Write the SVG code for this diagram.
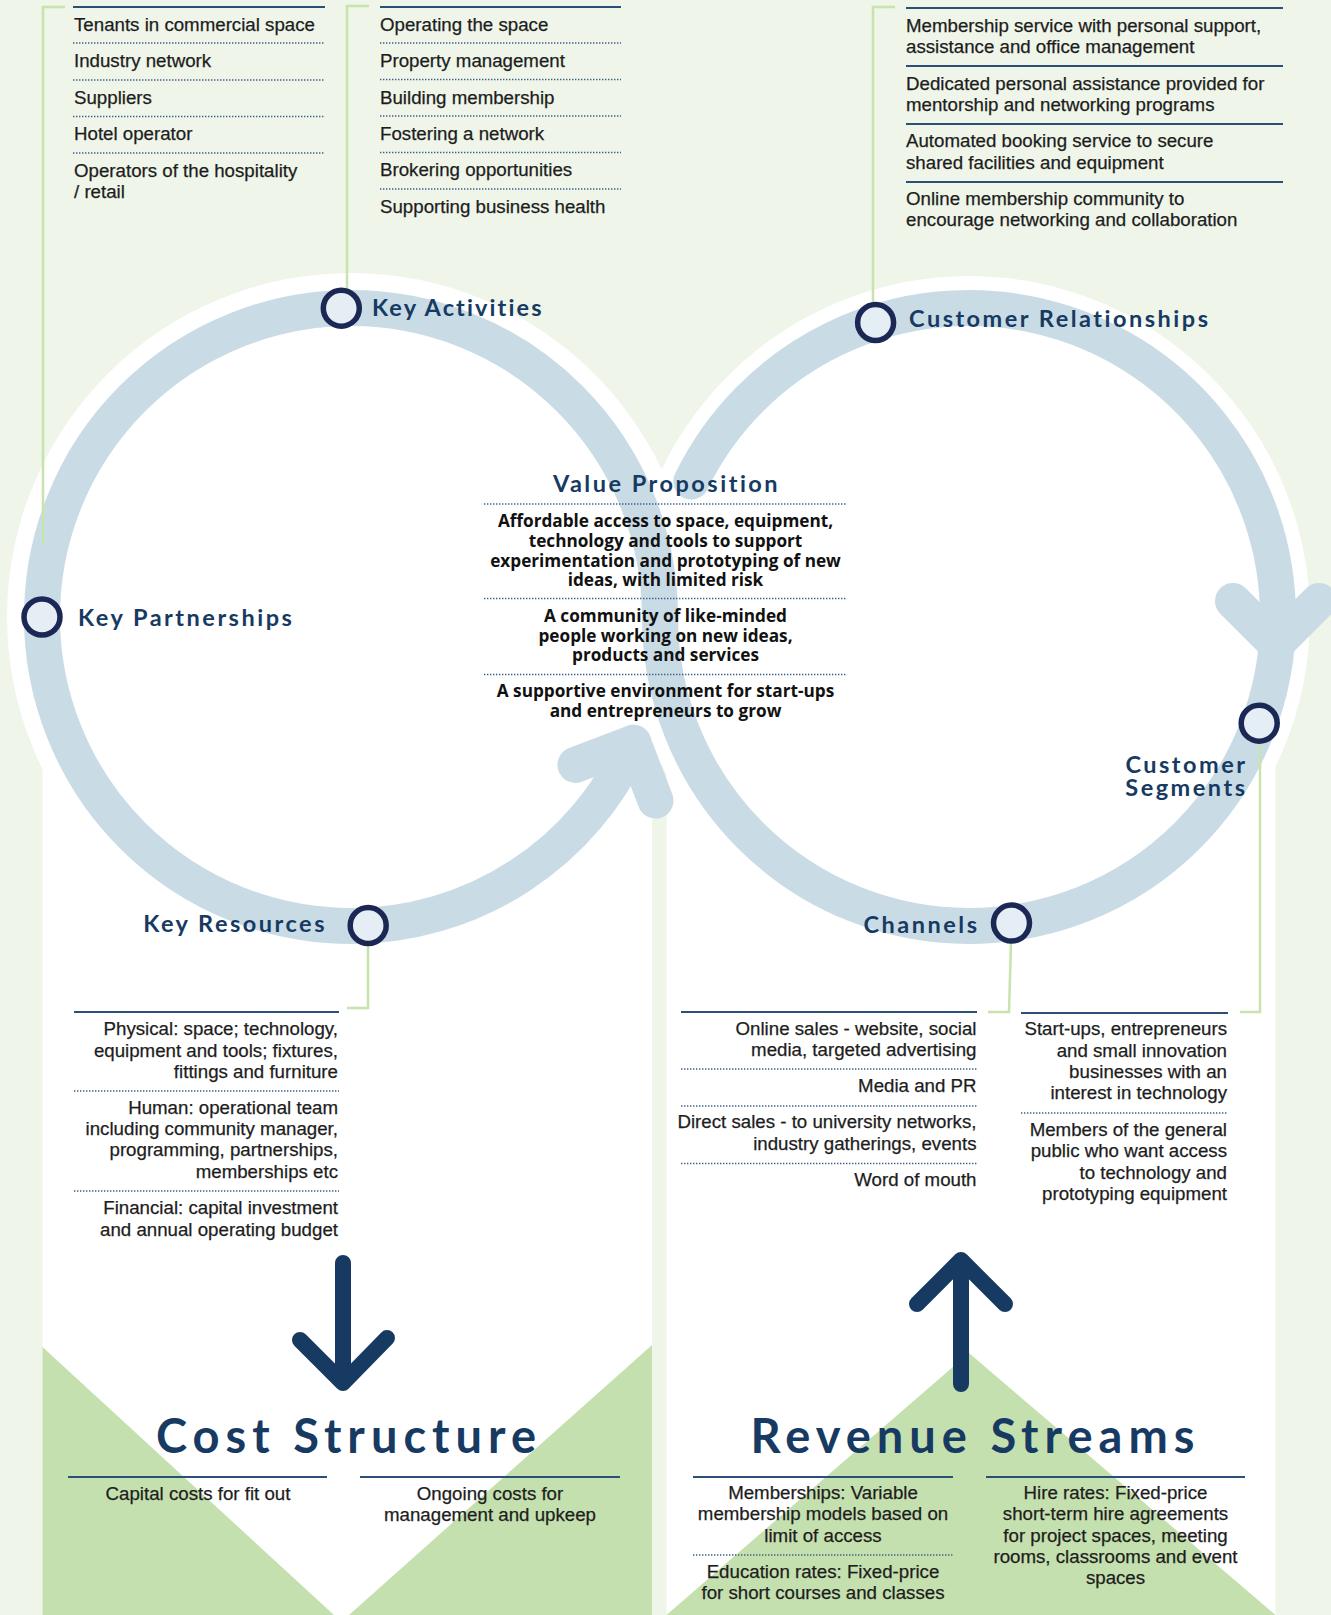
<svg xmlns="http://www.w3.org/2000/svg" width="1331" height="1615" viewBox="0 0 1331 1615">
  <style>
    .lab { font-family: Lato, "Liberation Sans", sans-serif; font-weight: 700; font-size: 23.5px; letter-spacing: 2.5px; fill: #173a63; }
    .tight { letter-spacing: 2.1px; }
    .big { font-family: Lato, "Liberation Sans", sans-serif; font-weight: 700; font-size: 47px; letter-spacing: 6px; fill: #173a63; text-anchor: middle; }
    .body { font-family: "Liberation Sans", Arial, sans-serif; font-size: 18.7px; fill: #1d1d1d; stroke: #1d1d1d; stroke-width: 0.25px; }
    .end { text-anchor: end; }
    .mid { text-anchor: middle; }
    .vp { font-family: "Open Sans", "Liberation Sans", sans-serif; font-weight: 700; font-size: 17.2px; fill: #111111; text-anchor: middle; }
    .solid { stroke: #2c4f78; stroke-width: 2.2; fill: none; }
    .dot { stroke: #3f5f88; stroke-width: 1.6; stroke-dasharray: 1.4 1.6; fill: none; }
    .node { fill: #e5edf5; stroke: #1b2754; stroke-width: 5.5; }
    .band { fill: none; stroke: #c9dce6; stroke-width: 36; stroke-linecap: round; stroke-linejoin: round; }
    .leader { fill: none; stroke: #c8e3ad; stroke-width: 2.5; }
    .bigarrow { fill: none; stroke: #173a63; stroke-width: 16; stroke-linecap: round; stroke-linejoin: round; }
  </style>

  <!-- backdrop -->
  <rect x="0" y="0" width="1331" height="1615" fill="#eff5e9"/>
  <g id="halo" fill="#ffffff">
    <circle cx="351" cy="617" r="344"/>
    <circle cx="969" cy="617" r="341"/>
    <rect x="42.5" y="617" width="609.5" height="998"/>
    <rect x="666.5" y="617" width="609" height="998"/>
  </g>
  <g id="base-triangles" fill="#c5e0af">
    <polygon points="42.5,1347 42.5,1615 334,1615"/>
    <polygon points="652,1345 652,1615 349,1615"/>
    <polygon points="666.5,1615 969,1353 1275.5,1615"/>
  </g>

  <!-- connectors: figure-eight loop, leaders, flow arrows -->
  <g id="connectors">
    <path class="band" d="M691.3 481.5 A309 309 0 0 1 1278 617 A309 309 0 0 1 969 926 A309 309 0 0 1 660 617 A309 309 0 0 0 351 308 A309 309 0 0 0 42 617 A309 309 0 0 0 351 926 A309 309 0 0 0 633.3 742.7"/>
    <path class="band" d="M575.4 764.9 L633.3 742.7 L655.5 800.6"/>
    <path class="band" d="M1233 601 L1276 644 L1319 601"/>
    <path class="leader" d="M65 7 H43 V545"/>
    <path class="leader" d="M369 6 H347 V292"/>
    <path class="leader" d="M895 7 H873 V305"/>
    <path class="leader" d="M368 944 V1008 H347"/>
    <path class="leader" d="M1011 942 L1009 1012 H988"/>
    <path class="leader" d="M1260 742 V1012 H1240"/>
    <path class="bigarrow" d="M343 1263 V1380 M300 1340 L343 1383 L387 1338"/>
    <path class="bigarrow" d="M961 1384 V1264 M917 1304 L961 1260 L1005 1304"/>
  </g>

  <g id="key-partnerships">
    <circle class="node" cx="42" cy="617" r="18"/>
    <text class="lab" x="78" y="626">Key Partnerships</text>
    <line class="solid" x1="73" y1="7" x2="325" y2="7"/>
    <line class="dot" x1="73" y1="43" x2="325" y2="43"/>
    <line class="dot" x1="73" y1="80" x2="325" y2="80"/>
    <line class="dot" x1="73" y1="116.5" x2="325" y2="116.5"/>
    <line class="dot" x1="73" y1="153" x2="325" y2="153"/>
    <text class="body" x="74" y="31">Tenants in commercial space</text>
    <text class="body" x="74" y="67">Industry network</text>
    <text class="body" x="74" y="104">Suppliers</text>
    <text class="body" x="74" y="140">Hotel operator</text>
    <text class="body" x="74" y="176.5">Operators of the hospitality</text>
    <text class="body" x="74" y="197.5">/ retail</text>
  </g>

  <g id="key-activities">
    <circle class="node" cx="341.3" cy="308.2" r="18"/>
    <text class="lab tight" x="372" y="316">Key Activities</text>
    <line class="solid" x1="380" y1="7" x2="621" y2="7"/>
    <line class="dot" x1="380" y1="43" x2="621" y2="43"/>
    <line class="dot" x1="380" y1="79.5" x2="621" y2="79.5"/>
    <line class="dot" x1="380" y1="116" x2="621" y2="116"/>
    <line class="dot" x1="380" y1="152.5" x2="621" y2="152.5"/>
    <line class="dot" x1="380" y1="189" x2="621" y2="189"/>
    <text class="body" x="380" y="30.5">Operating the space</text>
    <text class="body" x="380" y="67">Property management</text>
    <text class="body" x="380" y="103.5">Building membership</text>
    <text class="body" x="380" y="140">Fostering a network</text>
    <text class="body" x="380" y="176">Brokering opportunities</text>
    <text class="body" x="380" y="212.5">Supporting business health</text>
  </g>

  <g id="customer-relationships">
    <circle class="node" cx="875.6" cy="322.5" r="18"/>
    <text class="lab" x="909" y="327">Customer Relationships</text>
    <line class="solid" x1="906" y1="8" x2="1283" y2="8"/>
    <line class="solid" x1="906" y1="66" x2="1283" y2="66"/>
    <line class="solid" x1="906" y1="124" x2="1283" y2="124"/>
    <line class="solid" x1="906" y1="182" x2="1283" y2="182"/>
    <text class="body" x="906" y="32">Membership service with personal support,</text>
    <text class="body" x="906" y="53">assistance and office management</text>
    <text class="body" x="906" y="89.5">Dedicated personal assistance provided for</text>
    <text class="body" x="906" y="110.5">mentorship and networking programs</text>
    <text class="body" x="906" y="147">Automated booking service to secure</text>
    <text class="body" x="906" y="168.5">shared facilities and equipment</text>
    <text class="body" x="906" y="204.5">Online membership community to</text>
    <text class="body" x="906" y="226">encourage networking and collaboration</text>
  </g>

  <g id="value-proposition">
    <text class="lab mid" x="666.5" y="492">Value Proposition</text>
    <line class="dot" x1="484" y1="504" x2="847" y2="504"/>
    <line class="dot" x1="484" y1="598.5" x2="847" y2="598.5"/>
    <line class="dot" x1="484" y1="674.5" x2="847" y2="674.5"/>
    <text class="vp" x="665.5" y="526.5">Affordable access to space, equipment,</text>
    <text class="vp" x="665.5" y="546.5">technology and tools to support</text>
    <text class="vp" x="665.5" y="566.5">experimentation and prototyping of new</text>
    <text class="vp" x="665.5" y="586">ideas, with limited risk</text>
    <text class="vp" x="665.5" y="621.5">A community of like-minded</text>
    <text class="vp" x="665.5" y="641.5">people working on new ideas,</text>
    <text class="vp" x="665.5" y="661">products and services</text>
    <text class="vp" x="665.5" y="697">A supportive environment for start-ups</text>
    <text class="vp" x="665.5" y="716.5">and entrepreneurs to grow</text>
  </g>

  <g id="customer-segments">
    <circle class="node" cx="1259.2" cy="723.2" r="18"/>
    <text class="lab end" x="1247.5" y="772.5">Customer</text>
    <text class="lab end" x="1247.5" y="796">Segments</text>
    <line class="solid" x1="1021" y1="1013" x2="1228" y2="1013"/>
    <line class="dot" x1="1021" y1="1113" x2="1228" y2="1113"/>
    <text class="body end" x="1227" y="1035">Start-ups, entrepreneurs</text>
    <text class="body end" x="1227" y="1056.5">and small innovation</text>
    <text class="body end" x="1227" y="1078">businesses with an</text>
    <text class="body end" x="1227" y="1099">interest in technology</text>
    <text class="body end" x="1227" y="1136">Members of the general</text>
    <text class="body end" x="1227" y="1157">public who want access</text>
    <text class="body end" x="1227" y="1178.5">to technology and</text>
    <text class="body end" x="1227" y="1200">prototyping equipment</text>
  </g>

  <g id="channels">
    <circle class="node" cx="1011.5" cy="923.1" r="18"/>
    <text class="lab end" x="979.5" y="933">Channels</text>
    <line class="solid" x1="681" y1="1012" x2="977" y2="1012"/>
    <line class="dot" x1="681" y1="1069" x2="977" y2="1069"/>
    <line class="dot" x1="681" y1="1106" x2="977" y2="1106"/>
    <line class="dot" x1="681" y1="1163.5" x2="977" y2="1163.5"/>
    <text class="body end" x="976.5" y="1034.5">Online sales - website, social</text>
    <text class="body end" x="976.5" y="1056">media, targeted advertising</text>
    <text class="body end" x="976.5" y="1092">Media and PR</text>
    <text class="body end" x="976.5" y="1128">Direct sales - to university networks,</text>
    <text class="body end" x="976.5" y="1149.5">industry gatherings, events</text>
    <text class="body end" x="976.5" y="1186">Word of mouth</text>
  </g>

  <g id="key-resources">
    <circle class="node" cx="368.2" cy="925.5" r="18"/>
    <text class="lab end" x="327" y="932">Key Resources</text>
    <line class="solid" x1="74" y1="1012" x2="339" y2="1012"/>
    <line class="dot" x1="74" y1="1091" x2="339" y2="1091"/>
    <line class="dot" x1="74" y1="1191" x2="339" y2="1191"/>
    <text class="body end" x="338" y="1035">Physical: space; technology,</text>
    <text class="body end" x="338" y="1057">equipment and tools; fixtures,</text>
    <text class="body end" x="338" y="1078">fittings and furniture</text>
    <text class="body end" x="338" y="1113.5">Human: operational team</text>
    <text class="body end" x="338" y="1135">including community manager,</text>
    <text class="body end" x="338" y="1156">programming, partnerships,</text>
    <text class="body end" x="338" y="1177.5">memberships etc</text>
    <text class="body end" x="338" y="1214">Financial: capital investment</text>
    <text class="body end" x="338" y="1236">and annual operating budget</text>
  </g>

  <g id="cost-structure">
    <text class="big" x="349" y="1453">Cost Structure</text>
    <line class="solid" x1="68" y1="1477" x2="327" y2="1477"/>
    <line class="solid" x1="360" y1="1477" x2="620" y2="1477"/>
    <text class="body mid" x="198" y="1500">Capital costs for fit out</text>
    <text class="body mid" x="490" y="1500">Ongoing costs for</text>
    <text class="body mid" x="490" y="1521">management and upkeep</text>
  </g>

  <g id="revenue-streams">
    <text class="big" x="975.5" y="1453">Revenue Streams</text>
    <line class="solid" x1="693" y1="1477" x2="953" y2="1477"/>
    <line class="solid" x1="986" y1="1477" x2="1245" y2="1477"/>
    <line class="dot" x1="693" y1="1555" x2="953" y2="1555"/>
    <text class="body mid" x="823" y="1499">Memberships: Variable</text>
    <text class="body mid" x="823" y="1520">membership models based on</text>
    <text class="body mid" x="823" y="1541.5">limit of access</text>
    <text class="body mid" x="823" y="1578">Education rates: Fixed-price</text>
    <text class="body mid" x="823" y="1599">for short courses and classes</text>
    <text class="body mid" x="1115.5" y="1499">Hire rates: Fixed-price</text>
    <text class="body mid" x="1115.5" y="1520">short-term hire agreements</text>
    <text class="body mid" x="1115.5" y="1542">for project spaces, meeting</text>
    <text class="body mid" x="1115.5" y="1563">rooms, classrooms and event</text>
    <text class="body mid" x="1115.5" y="1584">spaces</text>
  </g>
</svg>
